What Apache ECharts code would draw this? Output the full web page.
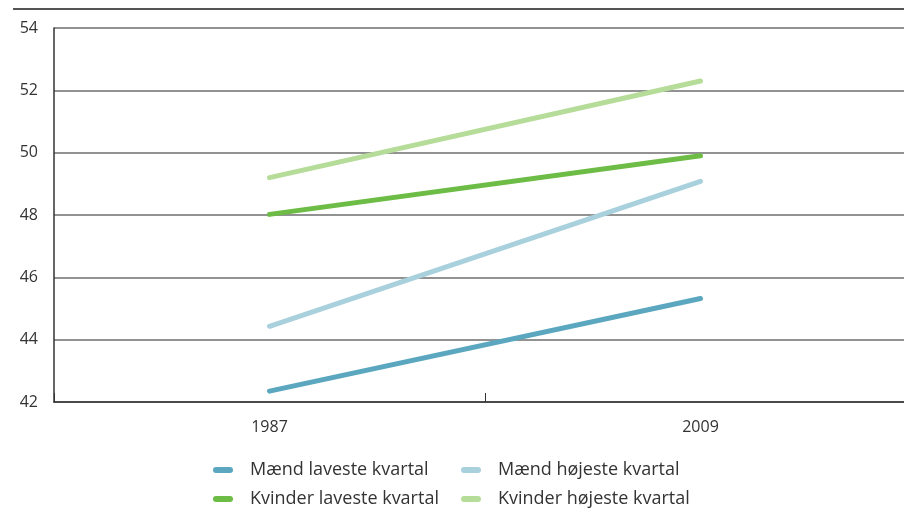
<!DOCTYPE html>
<html>
<head>
<meta charset="utf-8">
<script src="https://cdn.jsdelivr.net/npm/echarts@6/dist/echarts.min.js"></script>
<style>
html,body{margin:0;padding:0;background:#fff;}
#chart{width:904px;height:531px;}
</style>
</head>
<body>
<div id="chart"></div>
<script>
const years = ['1987', '2009'];
const maendLaveste = [42.35, 45.32];
const maendHojeste = [44.43, 49.08];
const kvinderLaveste = [48.02, 49.9];
const kvinderHojeste = [49.2, 52.3];
const seriesNames = ['Mænd laveste kvartal', 'Mænd højeste kvartal', 'Kvinder laveste kvartal', 'Kvinder højeste kvartal'];
const colors = ['#5aa7bf', '#a9d0dd', '#6cbc45', '#b6dc99'];

const chart = echarts.init(document.getElementById('chart'));
const font = '"Open Sans", sans-serif';
const icon = 'path://M3,0 H17 A3,3 0 0 1 17,6 H3 A3,3 0 0 1 3,0 Z';
function mkSeries(name, data, color) {
  return {
    name: name, type: 'line', data: data, symbol: 'none',
    lineStyle: { color: color, width: 5, cap: 'round' },
    itemStyle: { color: color },
    emphasis: { disabled: true }
  };
}
chart.setOption({
  animation: false,
  color: colors,
  grid: { left: 54, width: 862, top: 28, bottom: 129, containLabel: false, outerBoundsMode: 'none' },
  graphic: [{
    type: 'line', shape: { x1: 13, y1: 9, x2: 904, y2: 9 },
    style: { stroke: '#555', lineWidth: 2 }
  }],
  legend: [{
    orient: 'vertical', left: 213, top: 461, itemGap: 11, padding: 0,
    itemWidth: 20, itemHeight: 6, icon: icon,
    data: [seriesNames[0], seriesNames[2]],
    textStyle: { fontFamily: font, fontSize: 18, color: '#333', padding: [0, 0, 0, 12] }
  }, {
    orient: 'vertical', left: 461, top: 461, itemGap: 11, padding: 0,
    itemWidth: 20, itemHeight: 6, icon: icon,
    data: [seriesNames[1], seriesNames[3]],
    textStyle: { fontFamily: font, fontSize: 18, color: '#333', padding: [0, 0, 0, 12] }
  }],
  xAxis: {
    type: 'category', data: years, boundaryGap: true,
    axisLine: { lineStyle: { color: '#333', width: 1.5 } },
    axisTick: { show: true, inside: true, length: 9, lineStyle: { color: '#333', width: 1 } },
    axisLabel: { fontFamily: font, fontSize: 16, color: '#333', margin: 17 }
  },
  yAxis: {
    type: 'value', min: 42, max: 54, interval: 2,
    axisLine: { show: true, lineStyle: { color: '#333', width: 1.5 } },
    axisTick: { show: false },
    axisLabel: { fontFamily: font, fontSize: 16, color: '#333', margin: 16 },
    splitLine: { show: true, lineStyle: { color: '#6e6e6e', width: 1.5 } }
  },
  series: [
    mkSeries(seriesNames[0], maendLaveste, colors[0]),
    mkSeries(seriesNames[1], maendHojeste, colors[1]),
    mkSeries(seriesNames[2], kvinderLaveste, colors[2]),
    mkSeries(seriesNames[3], kvinderHojeste, colors[3])
  ]
});
</script>
</body>
</html>
